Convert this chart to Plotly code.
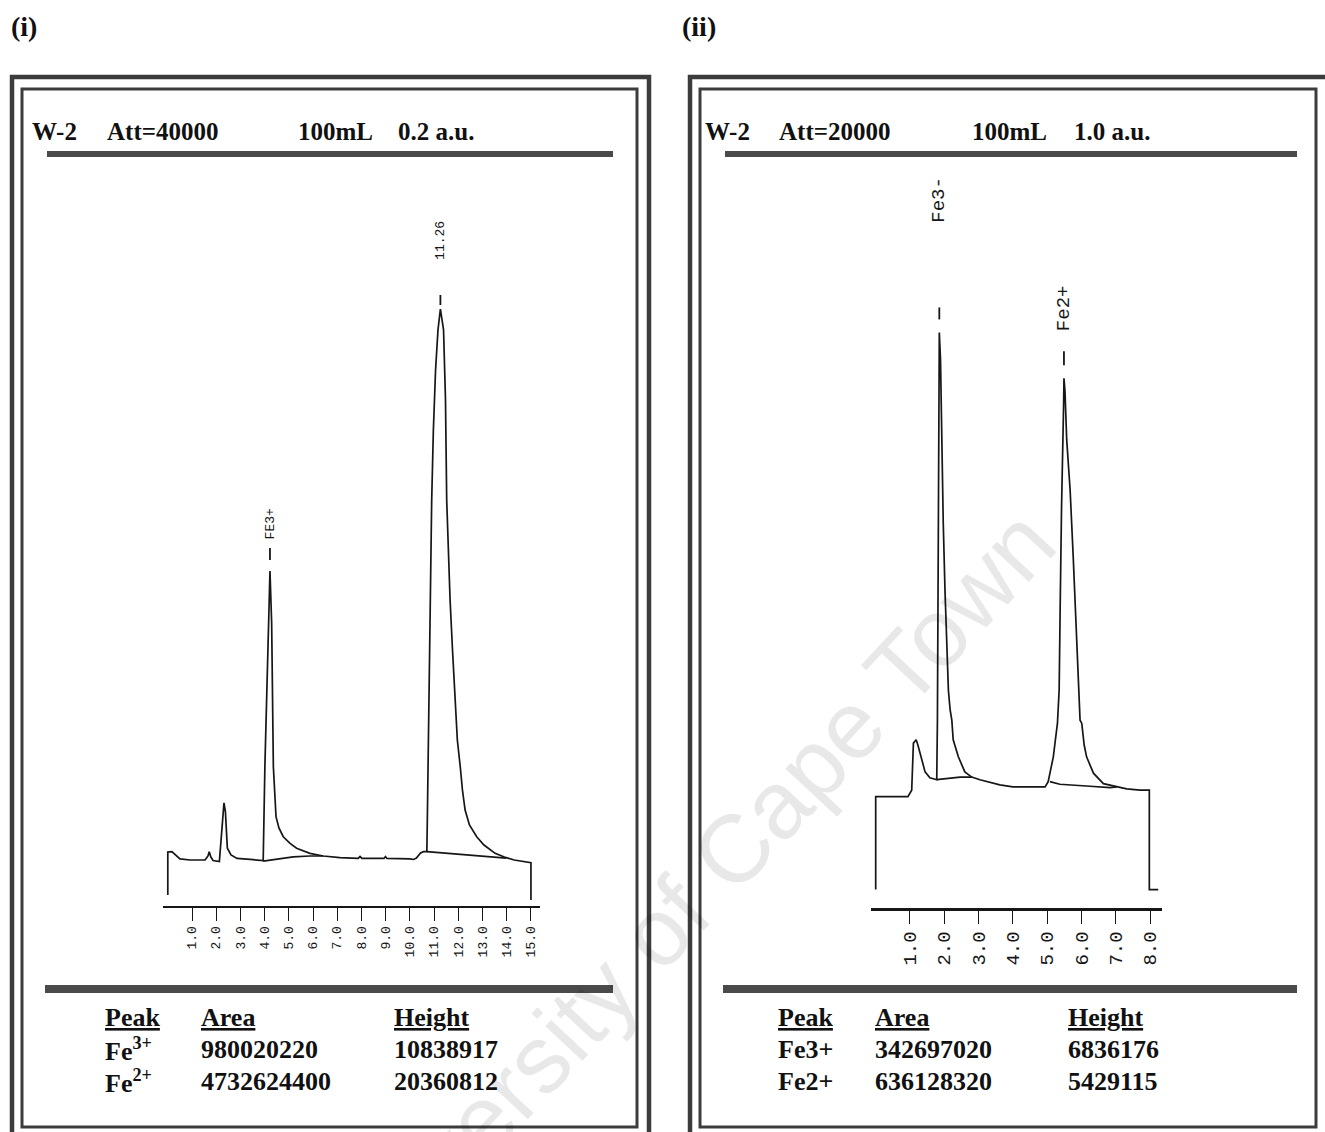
import plotly.graph_objects as go

W, H = 1325, 1132

# ---------------- Panel (i) data ----------------
P1_TICK_VALS = [1, 2, 3, 4, 5, 6, 7, 8, 9, 10, 11, 12, 13, 14, 15]
P1_TICK_TEXT = ["1.0", "2.0", "3.0", "4.0", "5.0", "6.0", "7.0", "8.0",
                "9.0", "10.0", "11.0", "12.0", "13.0", "14.0", "15.0"]

P1_TABLE_PEAK = ["Fe<sup>3+</sup>", "Fe<sup>2+</sup>"]
P1_TABLE_AREA = ["980020220", "4732624400"]
P1_TABLE_HEIGHT = [10838917, 20360812]

P1_PEAK_LABEL = ["FE3+", "11.26"]
P1_APEX_T = [4.22, 11.26]          # retention time of each apex (min)
P1_APEX_BASE = [-0.02, 0.26]       # integration baseline under each apex (x10^6)

# trace before the Fe3+ apex
P1_A_T = [0.0, 0.0, 0.17, 0.30, 0.50, 0.92, 1.54, 1.66, 1.71, 1.78, 1.87, 2.13,
          2.20, 2.28, 2.32, 2.38, 2.46, 2.61, 2.86, 3.40, 3.94, 4.01, 4.09, 4.18]
P1_A_S = [-1.31, 0.30, 0.31, 0.19, 0.04, 0.0, 0.0, 0.15, 0.31, 0.11, -0.02, -0.06,
          0.75, 2.02, 2.14, 1.80, 0.44, 0.19, 0.06, 0.02, -0.02, 3.49, 5.99, 8.86]
# trace between the two apexes
P1_B_T = [4.29, 4.33, 4.36, 4.47, 4.59, 4.77, 5.05, 5.32, 5.87, 6.42, 7.11, 7.86,
          7.94, 8.02, 8.93, 8.99, 9.05, 10.0, 10.15, 10.27, 10.44, 10.56, 10.70,
          10.72, 10.75, 10.81, 10.87, 10.90, 10.97, 11.06, 11.16]
P1_B_S = [8.86, 5.99, 3.49, 1.62, 1.20, 0.87, 0.62, 0.44, 0.25, 0.15, 0.09, 0.06,
          0.13, 0.06, 0.06, 0.13, 0.06, 0.04, 0.02, 0.07, 0.26, 0.31, 0.31,
          1.50, 3.74, 7.23, 10.85, 13.47, 16.09, 18.34, 19.84]
# trace after the Fe2+ apex
P1_C_T = [11.39, 11.47, 11.52, 11.59, 11.66, 11.76, 11.87, 11.96, 12.08, 12.17,
          12.28, 12.46, 12.76, 13.06, 13.52, 13.90, 14.31, 14.66, 14.96, 15.0, 15.0]
P1_C_S = [19.84, 17.22, 13.47, 11.23, 9.73, 7.86, 5.99, 4.49, 3.49, 2.62,
          1.87, 1.31, 0.87, 0.56, 0.25, 0.11, 0.0, -0.06, -0.10, -0.10, -1.50]

# integration baselines
P1_BL1_T = [3.94, 4.63, 5.18, 5.87, 6.42]
P1_BL1_S = [-0.04, 0.06, 0.12, 0.15, 0.15]
P1_BL2_T = [10.70, 11.39, 12.21, 13.06, 13.52, 13.98]
P1_BL2_S = [0.31, 0.26, 0.21, 0.15, 0.11, 0.07]

# ---------------- Panel (ii) data ----------------
P2_TICK_VALS = [1, 2, 3, 4, 5, 6, 7, 8]
P2_TICK_TEXT = ["1.0", "2.0", "3.0", "4.0", "5.0", "6.0", "7.0", "8.0"]

P2_TABLE_PEAK = ["Fe3+", "Fe2+"]
P2_TABLE_AREA = ["342697020", "636128320"]
P2_TABLE_HEIGHT = ["6836176", "5429115"]

P2_PEAK_LABEL = ["Fe3-", "Fe2+"]
P2_APEX_T = [1.855, 5.49]
P2_APEX_S = [7.10, 6.40]

P2_T = [0.0, 0.0, 0.94, 1.05, 1.10, 1.18, 1.23, 1.29, 1.36, 1.44, 1.58, 1.78,
        1.80, 1.82, 1.83, 1.85, 1.855, 1.89, 1.92, 1.97, 2.02, 2.07, 2.12, 2.17,
        2.22, 2.26, 2.41, 2.60, 2.80, 3.04, 3.24, 3.62, 4.0, 4.40, 4.94, 5.03,
        5.11, 5.18, 5.24, 5.30, 5.35, 5.37, 5.38, 5.42, 5.47, 5.48, 5.49, 5.52,
        5.57, 5.67, 5.76, 5.86, 5.91, 5.96, 6.01, 6.08, 6.15, 6.35, 6.64, 7.03,
        7.32, 7.71, 7.98, 7.98, 8.24]
P2_S = [-1.42, 0.0, 0.0, 0.10, 0.82, 0.87, 0.79, 0.67, 0.52, 0.38, 0.29, 0.26,
        1.17, 3.01, 5.30, 6.68, 7.10, 6.68, 5.46, 4.19, 3.16, 2.40, 1.63, 1.33,
        1.17, 0.87, 0.61, 0.38, 0.30, 0.26, 0.23, 0.18, 0.15, 0.15, 0.15, 0.23,
        0.41, 0.61, 0.87, 1.12, 1.63, 2.24, 2.91, 4.43, 5.46, 6.0, 6.40, 6.20,
        5.46, 4.69, 3.67, 2.40, 1.63, 1.17, 1.12, 0.79, 0.61, 0.36, 0.20, 0.15,
        0.12, 0.10, 0.10, -1.42, -1.42]

P2_BL1_T = [1.78, 2.17, 2.46, 2.81]
P2_BL1_S = [0.26, 0.28, 0.30, 0.30]
P2_BL2_T = [5.08, 5.37, 6.25, 6.83, 7.03]
P2_BL2_S = [0.23, 0.19, 0.16, 0.14, 0.15]

HEADERS = [["W-2", "Att=40000", "100mL", "0.2 a.u."],
           ["W-2", "Att=20000", "100mL", "1.0 a.u."]]
PANEL_TAGS = ["(i)", "(ii)"]
WATERMARK = "University of Cape Town"


def xp(x):
    return x / W


def yp(y):
    return 1 - y / H


INK = "#161616"
FRAME = "#3c3c3c"

# apex signals of panel (i) come from the tabulated peak heights
p1_apex = [b + h / 1e6 for b, h in zip(P1_APEX_BASE, P1_TABLE_HEIGHT)]
p1_t = P1_A_T + [P1_APEX_T[0]] + P1_B_T + [P1_APEX_T[1]] + P1_C_T
p1_s = P1_A_S + [p1_apex[0]] + P1_B_S + [p1_apex[1]] + P1_C_S

fig = go.Figure()
line = dict(color=INK, width=1.7)
fig.add_trace(go.Scatter(x=p1_t, y=p1_s, mode="lines", line=line, xaxis="x", yaxis="y"))
fig.add_trace(go.Scatter(x=P1_BL1_T, y=P1_BL1_S, mode="lines", line=line, xaxis="x", yaxis="y"))
fig.add_trace(go.Scatter(x=P1_BL2_T, y=P1_BL2_S, mode="lines", line=line, xaxis="x", yaxis="y"))
fig.add_trace(go.Scatter(x=P2_T, y=P2_S, mode="lines", line=line, xaxis="x2", yaxis="y2"))
fig.add_trace(go.Scatter(x=P2_BL1_T, y=P2_BL1_S, mode="lines", line=line, xaxis="x2", yaxis="y2"))
fig.add_trace(go.Scatter(x=P2_BL2_T, y=P2_BL2_S, mode="lines", line=line, xaxis="x2", yaxis="y2"))

# axis geometry (pixel layout of each recorder trace)
P1 = dict(t0=167.8, ppm=24.21, s0=860.0, ppu=26.72, xl=163, xr=540, yt=160, yb=906)
P2 = dict(t0=875.7, ppm=34.29, s0=796.7, ppu=65.39, xl=871, xr=1162, yt=160, yb=908)


def xaxis_for(g, vals, text, fsize, lw, anchor):
    return dict(domain=[xp(g["xl"]), xp(g["xr"])],
                range=[(g["xl"] - g["t0"]) / g["ppm"], (g["xr"] - g["t0"]) / g["ppm"]],
                showline=True, linecolor=INK, linewidth=lw, showgrid=False, zeroline=False,
                ticks="outside", ticklen=13, tickwidth=1.4, tickcolor=INK,
                tickvals=vals, ticktext=text, tickangle=-90,
                tickfont=dict(family="Liberation Mono", size=fsize, color=INK),
                fixedrange=True, anchor=anchor)


def yaxis_for(g, anchor):
    return dict(domain=[yp(g["yb"]), yp(g["yt"])],
                range=[(g["s0"] - g["yb"]) / g["ppu"], (g["s0"] - g["yt"]) / g["ppu"]],
                visible=False, fixedrange=True, anchor=anchor)


shapes = []
annotations = []

# double frames around each record
for x0, x1 in [(12, 649), (690, 1345)]:
    shapes.append(dict(type="rect", xref="paper", yref="paper", x0=xp(x0), x1=xp(x1),
                       y0=yp(1150), y1=yp(77), line=dict(color=FRAME, width=4.5)))
for x0, x1 in [(22, 637), (700, 1316)]:
    shapes.append(dict(type="rect", xref="paper", yref="paper", x0=xp(x0), x1=xp(x1),
                       y0=yp(1127), y1=yp(89), line=dict(color=FRAME, width=3)))
# heavy rules under the header and above the peak table
for x0, x1 in [(47, 613), (725, 1297)]:
    shapes.append(dict(type="rect", xref="paper", yref="paper", x0=xp(x0), x1=xp(x1),
                       y0=yp(157), y1=yp(151), line=dict(width=0), fillcolor="#4a4a4a"))
    shapes.append(dict(type="rect", xref="paper", yref="paper", x0=xp(x0 - 2), x1=xp(x1),
                       y0=yp(993), y1=yp(985), line=dict(width=0), fillcolor="#4a4a4a"))

# peak markers and labels
peak_sets = [
    ("x", "y", P1_APEX_T, p1_apex, P1_PEAK_LABEL, [(11, 23), (4, 14)], [31, 48], 13),
    ("x2", "y2", P2_APEX_T, P2_APEX_S, P2_PEAK_LABEL, [(13, 25), (13, 27)], [109, 46], 19),
]
for xr, yr, ts, ss, labels, ticks, offs, fs in peak_sets:
    for t, s, lab, (a, b), off in zip(ts, ss, labels, ticks, offs):
        shapes.append(dict(type="line", xref=xr, yref=yr, x0=t, x1=t,
                           ysizemode="pixel", yanchor=s, y0=a, y1=b,
                           line=dict(color=INK, width=1.8)))
        annotations.append(dict(xref=xr, yref=yr, x=t, y=s, text=lab, showarrow=False,
                                textangle=-90, xanchor="center", yanchor="bottom",
                                yshift=off, borderpad=0,
                                font=dict(family="Liberation Mono", size=fs, color=INK)))

# header lines
header_x = [[30, 105, 296, 396], [703, 777, 970, 1072]]
for texts, xs in zip(HEADERS, header_x):
    for t, x in zip(texts, xs):
        annotations.append(dict(xref="paper", yref="paper", x=xp(x), y=yp(131), text="<b>" + t + "</b>",
                                showarrow=False, xanchor="left", yanchor="middle",
                                font=dict(family="Liberation Serif", size=25, color="#111")))

# panel tags
for tag, x in zip(PANEL_TAGS, [9, 680]):
    annotations.append(dict(xref="paper", yref="paper", x=xp(x), y=yp(27), text="<b>" + tag + "</b>",
                            showarrow=False, xanchor="left", yanchor="middle",
                            font=dict(family="Liberation Serif", size=28, color="#111")))

# peak tables
tables = [
    ([103, 199, 392], P1_TABLE_PEAK, P1_TABLE_AREA, [str(h) for h in P1_TABLE_HEIGHT]),
    ([776, 873, 1066], P2_TABLE_PEAK, P2_TABLE_AREA, P2_TABLE_HEIGHT),
]
row_y = [1017, 1049, 1081]
for cols, names, areas, heights in tables:
    columns = [["<u>Peak</u>"] + names, ["<u>Area</u>"] + areas, ["<u>Height</u>"] + heights]
    for x, col in zip(cols, columns):
        for y, cell in zip(row_y, col):
            annotations.append(dict(xref="paper", yref="paper", x=xp(x), y=yp(y),
                                    text="<b>" + cell + "</b>", showarrow=False,
                                    xanchor="left", yanchor="middle",
                                    font=dict(family="Liberation Serif", size=26, color="#111")))

# archive watermark
annotations.append(dict(xref="paper", yref="paper", x=xp(683), y=yp(903), text=WATERMARK,
                        showarrow=False, textangle=-47, xanchor="center", yanchor="middle",
                        font=dict(family="Liberation Sans", size=96, color="rgba(0,0,0,0.09)")))

fig.update_layout(
    width=W, height=H, margin=dict(l=0, r=0, t=0, b=0),
    paper_bgcolor="white", plot_bgcolor="rgba(0,0,0,0)", showlegend=False,
    xaxis=xaxis_for(P1, P1_TICK_VALS, P1_TICK_TEXT, 13, 2, "y"),
    yaxis=yaxis_for(P1, "x"),
    xaxis2=xaxis_for(P2, P2_TICK_VALS, P2_TICK_TEXT, 19, 2.5, "y2"),
    yaxis2=yaxis_for(P2, "x2"),
    shapes=shapes, annotations=annotations,
)

fig.write_html("out.html")
